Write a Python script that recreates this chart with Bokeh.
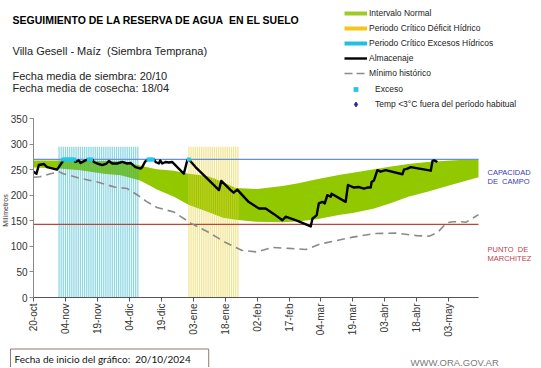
import math
from bokeh.plotting import figure
from bokeh.models import (ColumnDataSource, FixedTicker, Label, Legend,
                          LegendItem, Range1d)
from bokeh.embed import file_html
from bokeh.resources import INLINE

# ---------------- data (days since 20/10/2024) ----------------
tick_dias = [0, 15, 30, 45, 60, 75, 90, 105, 120, 135, 150, 165, 180, 195]
tick_txt = ["20-oct", "04-nov", "19-nov", "04-dic", "19-dic", "03-ene", "18-ene",
            "02-feb", "17-feb", "04-mar", "19-mar", "03-abr", "18-abr", "03-may"]
y_ticks = [0, 50, 100, 150, 200, 250, 300, 350]

normal_dia = [0, 12, 22, 33, 41, 50, 55, 58, 66, 73, 82, 89, 95, 105, 117, 125,
              133, 144, 150, 160, 168, 176, 185, 196, 209]
normal_sup = [268, 268, 268, 267, 266, 258, 253, 251, 248, 242, 237, 226, 214, 212,
              218, 224, 231, 240, 244, 251, 256, 261, 265, 268, 271]
normal_inf = [254, 252, 249, 242, 239, 229, 218, 211, 197, 181, 167, 156, 152, 148,
              147, 149, 153, 162, 165, 174, 185, 197, 207, 220, 235]

minimo_dia = [0, 3, 8, 12, 14, 22, 30, 38, 44, 49, 53, 58, 66, 74, 82, 86, 90, 98,
              105, 112, 120, 128, 135, 150, 160, 170, 180, 186, 190, 194, 197, 201,
              203, 209]
minimo_mm = [235, 236, 242, 246, 242, 233, 226, 216, 213, 200, 188, 176, 167, 145,
             128, 118, 108, 92, 89, 98, 96, 94, 105, 118, 125, 126, 121, 120, 128,
             146, 148, 148, 147, 162]

alm_dia = [0, 1.4, 2.5, 4.9, 6.4, 11.1, 13.5, 14.3, 15, 19,
           19.7, 21.3, 22.1, 24.4, 26, 27.6, 28.3, 29.9, 32.3, 34.3,
           35.4, 37, 39.3, 41.7, 44, 45.6, 47.9, 50.3, 51.1, 52.3,
           53.1, 54, 56.6, 57.3, 58.9, 59.5, 60.5, 62, 63.6, 65.1,
           70.6, 72.2, 73, 76.1, 80.8, 87.1, 88.2, 92.6, 94, 95.7,
           101, 105.9, 109, 113, 116.9, 118.4, 124, 130.2, 131, 133,
           134, 135.7, 136.8, 138, 139.6, 140, 146.6, 147.7, 150.5, 152.9,
           155.2, 156.8, 158.4, 158.8, 159.9, 161.5, 163, 165.4, 173.3, 174,
           175.6, 177.2, 186.6, 187.4, 188.2, 189.7]
alm_mm = [246, 242, 259, 261, 255, 250, 265, 269, 270, 270,
          265, 268, 263, 268, 270, 270, 265, 262, 259, 262,
          267, 262, 262, 265, 262, 263, 255, 252, 255, 265,
          268, 270, 270, 265, 262, 268, 262, 265, 264, 265,
          242, 268, 270, 255, 236, 210, 228, 210, 205, 211,
          187, 174, 174, 163, 151, 158, 150, 139, 154, 161,
          184, 187, 184, 200, 197, 203, 187, 220, 215, 216,
          213, 215, 215, 226, 229, 249, 246, 249, 241, 250,
          252, 255, 248, 267, 268, 265]

exceso_dia = [14, 15, 16, 17, 18, 19, 26, 27, 54, 55, 56, 73]
exceso_mm = [270, 270, 270, 270, 270, 270, 270, 270, 270, 270, 270, 270]

periodo_exceso = (12, 49)     # first / last day of critical excess period
periodo_deficit = (73, 96)    # first / last day of critical deficit period
periodo_alto = 295

CAPACIDAD_CAMPO = 270
PUNTO_MARCHITEZ = 143

# ---------------- geometry ----------------
W, H = 540, 367
X_MAX, Y_MAX = 209, 350                      # axis extents (days, mm)
AX_L, AX_R, AX_T, AX_B = 33, 478, 118, 297   # axis box in page px
PX_DAY = (AX_R - AX_L) / X_MAX
PX_MM = (AX_B - AX_T) / Y_MAX


def xd(px):   # page-x -> data x
    return (px - AX_L) / PX_DAY


def yd(py):   # page-y -> data y
    return (AX_B - py) / PX_MM


FONT = "Liberation Sans"

p = figure(width=W, height=H, x_range=Range1d(xd(0), xd(W)),
           y_range=Range1d(yd(H), yd(0)), output_backend="svg",
           toolbar_location=None, min_border=0)
p.outline_line_color = None
p.grid.visible = False
p.background_fill_color = "white"
p.border_fill_color = "white"

# normal interval band
p.varea(x=normal_dia, y1=normal_inf, y2=normal_sup, fill_color="#92c800")

# critical periods drawn as daily stripes
exc_days = list(range(periodo_exceso[0], periodo_exceso[1] + 1))
def_days = list(range(periodo_deficit[0], periodo_deficit[1] + 1))
p.vbar(x=exc_days, top=[periodo_alto] * len(exc_days), width=0.6, bottom=0,
       fill_color="#20b0c8", fill_alpha=0.5, line_color=None)
p.vbar(x=def_days, top=[periodo_alto] * len(def_days), width=0.6, bottom=0,
       fill_color="#e8cf3a", fill_alpha=0.55, line_color=None)

# reference levels
p.line([0, X_MAX], [CAPACIDAD_CAMPO, CAPACIDAD_CAMPO], line_color="#6a8fd6", line_width=1.2)
p.line([0, X_MAX], [PUNTO_MARCHITEZ, PUNTO_MARCHITEZ], line_color="#b5473f", line_width=1.2)

p.line(minimo_dia, minimo_mm, line_color="#8a8a8a", line_width=1.6, line_dash="8 5")
p.line(alm_dia, alm_mm, line_color="black", line_width=2.4, line_join="round")
r_exc = p.scatter(exceso_dia, exceso_mm, marker="square", size=4,
                  fill_color="#22c8e8", line_color=None)

# ---------------- axes (drawn at fixed data positions) ----------------
p.xaxis.ticker = FixedTicker(ticks=tick_dias)
p.xaxis.major_label_overrides = {d: t for d, t in zip(tick_dias, tick_txt)}
p.xaxis.major_label_orientation = math.pi / 2
p.xaxis.bounds = (0, X_MAX)
p.xaxis.fixed_location = 0
p.yaxis.ticker = FixedTicker(ticks=y_ticks)
p.yaxis.bounds = (0, Y_MAX)
p.yaxis.fixed_location = 0
for ax in (p.xaxis, p.yaxis):
    ax.major_label_text_font = FONT
    ax.major_label_text_font_size = "10px"
    ax.major_label_text_color = "#333333"
    ax.minor_tick_line_color = None
    ax.major_tick_in = 0
    ax.major_tick_out = 4
    ax.major_label_standoff = 2
p.xaxis.axis_line_color = "#555555"
p.xaxis.major_tick_line_color = "#555555"
p.yaxis.axis_line_color = "#8a8a8a"
p.yaxis.major_tick_line_color = "#8a8a8a"

# ---------------- legend ----------------
nan = float("nan")
dummy = ColumnDataSource(data=dict(x=[nan], y=[nan]))
r_n = p.line("x", "y", source=dummy, line_color="#9acc2a", line_width=4)
r_d = p.line("x", "y", source=dummy, line_color="#f5c518", line_width=4)
r_e = p.line("x", "y", source=dummy, line_color="#20bfe6", line_width=4)
r_a = p.line("x", "y", source=dummy, line_color="black", line_width=2.4)
r_m = p.line("x", "y", source=dummy, line_color="#8a8a8a", line_width=1.6,
             line_dash="8 4")
r_t = p.scatter("x", "y", source=dummy, marker="diamond", size=7,
                fill_color="#1a2aa8", line_color="#1a2aa8")

leg_kw = dict(orientation="vertical", glyph_width=23, glyph_height=12,
              label_height=12, padding=0, margin=0, border_line_color=None,
              background_fill_alpha=0, label_text_font=FONT,
              label_text_font_size="8.5px", label_text_color="#222222")
leg1 = Legend(items=[LegendItem(label="Intervalo Normal", renderers=[r_n]),
                     LegendItem(label="Periodo Crítico Déficit Hídrico", renderers=[r_d]),
                     LegendItem(label="Periodo Crítico Excesos Hídricos", renderers=[r_e]),
                     LegendItem(label="Almacenaje", renderers=[r_a]),
                     LegendItem(label="Mínimo histórico", renderers=[r_m])],
              location=(344, H - 78.7), spacing=3, label_standoff=2, **leg_kw)
leg2 = Legend(items=[LegendItem(label="Exceso", renderers=[r_exc]),
                     LegendItem(label="Temp <3°C fuera del período habitual",
                                renderers=[r_t])],
              location=(344, H - 110.3), spacing=3, label_standoff=8, **leg_kw)
p.add_layout(leg1)
p.add_layout(leg2)


# ---------------- texts ----------------
def lab(text, px, py, size, color="black", style="normal", font=FONT,
        align="left", baseline="alphabetic", **kw):
    p.add_layout(Label(x=xd(px), y=yd(py), text=text, text_font=font,
                       text_font_size=size, text_color=color, text_font_style=style,
                       text_align=align, text_baseline=baseline, **kw))


lab("SEGUIMIENTO DE LA RESERVA DE AGUA\u00a0 EN EL SUELO", 12, 19.3, "10.5px",
    style="bold")
lab("Villa Gesell - Maíz\u00a0 (Siembra Temprana)", 12, 50, "11px", color="#222222")
lab("Fecha media de siembra: 20/10", 12, 75, "11px", color="#222222")
lab("Fecha media de cosecha: 18/04", 12, 87.5, "11px", color="#222222")
lab("Milímetros", 5, 210, "7px", color="#333333", align="center", baseline="middle",
    angle=math.pi / 2)
lab("CAPACIDAD", 487, 171.7, "7.5px", color="#3b3bb0")
lab("DE\u00a0 CAMPO", 487, 181, "7.5px", color="#3b3bb0")
lab("PUNTO\u00a0 DE", 487, 249, "7.5px", color="#c0404a")
lab("MARCHITEZ", 487, 257.7, "7.5px", color="#c0404a")
lab("Fecha de inicio del gráfico:\u00a0 20/10/2024", 10, 360, "10px", color="#111111",
    font="Lato", border_line_color="#8c7b75", border_line_width=1,
    background_fill_color="white", padding=(4, 18, 4, 7))
lab("WWW.ORA.GOV.AR", 410, 362, "9.5px", color="#7a7a7a")

open("out.html", "w").write(file_html(p, INLINE))
